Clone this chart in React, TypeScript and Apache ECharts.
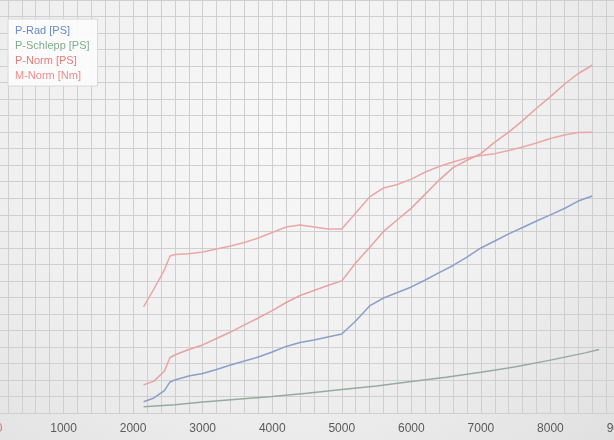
import React, { useEffect, useRef } from "react";
import * as echarts from "echarts";

const rpm = [2150, 2300, 2450, 2530, 2600, 2800, 3000, 3200, 3400, 3600, 3800, 4000, 4200, 4400, 4600, 4800, 5000, 5200, 5400, 5600, 5800, 6000, 6200, 6400, 6600, 6800, 7000, 7200, 7400, 7600, 7800, 8000, 8200, 8400, 8600];
const pRad = [6.8, 9.1, 13.6, 18.8, 20.0, 22.4, 23.9, 26.3, 29.1, 31.5, 33.9, 36.9, 40.3, 42.7, 44.2, 46.0, 47.8, 55.7, 64.8, 69.6, 72.9, 76.3, 80.5, 85.0, 89.3, 94.4, 99.9, 104.1, 108.4, 112.3, 116.2, 119.9, 123.8, 128.3, 131.4];
const pNorm = [17.0, 19.3, 25.4, 33.6, 35.1, 38.4, 41.2, 45.1, 49.0, 53.3, 57.5, 62.0, 66.9, 71.1, 74.2, 77.2, 80.0, 90.8, 100.2, 109.9, 117.0, 124.0, 132.5, 141.0, 148.5, 153.0, 157.0, 164.0, 170.0, 177.0, 184.5, 191.5, 199.0, 205.5, 210.5];
const mNorm = [64.3, 75.1, 86.6, 95.0, 95.9, 96.4, 97.5, 99.3, 101.1, 103.2, 105.9, 109.3, 112.6, 113.8, 112.6, 111.4, 111.4, 121.1, 130.8, 136.2, 138.3, 141.6, 145.9, 149.2, 151.9, 154.4, 155.9, 157.0, 158.9, 161.0, 163.4, 166.2, 168.3, 169.8, 169.9];
const rpmSchlepp = [2150, 2600, 3000, 3500, 4000, 4500, 5000, 5500, 6000, 6500, 7000, 7500, 8000, 8500, 8700];
const pSchlepp = [3.8, 5.0, 6.6, 8.3, 10.0, 12.0, 14.2, 16.3, 19.0, 21.7, 24.6, 28.0, 32.0, 36.4, 38.5];

const seriesNames = ["P-Rad [PS]", "P-Schlepp [PS]", "P-Norm [PS]", "M-Norm [Nm]"];
const lineColors = ["#8c9fc9", "#98aa9f", "#e6a3a3", "#e9a8a8"];
const textColors = ["#6a8ac6", "#7fae8c", "#e27d7d", "#ea8e8e"];

const pairs = (xs: number[], ys: number[]) => xs.map((x, i) => [x, ys[i]]);

export default function App() {
  const ref = useRef<HTMLDivElement>(null);
  useEffect(() => {
    if (!ref.current) return;
    const chart = echarts.init(ref.current, undefined, { renderer: "svg" });
    const data = [pairs(rpm, pRad), pairs(rpmSchlepp, pSchlepp), pairs(rpm, pNorm), pairs(rpm, mNorm)];
    chart.setOption({
      animation: false,
      backgroundColor: "transparent",
      grid: { left: -6, right: -6, top: 0, bottom: 27, containLabel: false, outerBoundsMode: "none" },
      legend: {
        orient: "vertical",
        left: 8,
        top: 19,
        icon: "none",
        itemWidth: 0,
        itemHeight: 0,
        itemGap: 4,
        padding: [5, 8, 6, 2],
        backgroundColor: "rgba(252,252,252,0.92)",
        borderColor: "#d8d8d8",
        borderWidth: 1,
        data: seriesNames.map((n, i) => ({
          name: n,
          textStyle: { color: textColors[i], fontSize: 11, fontFamily: "Liberation Sans" },
        })),
      },
      xAxis: {
        type: "value",
        min: 0,
        max: 9000,
        interval: 1000,
        axisLine: { show: false },
        axisTick: { show: false },
        axisLabel: {
          color: "#5a5a5a",
          fontSize: 12,
          fontFamily: "Liberation Sans",
          margin: 9,
          formatter: (v: number) => (v === 0 ? "{z|0}" : String(v)),
          rich: {
            z: { color: "#d07a70", fontSize: 12, fontFamily: "Liberation Sans", padding: [0, 0, 0, 10] },
          },
        },
        splitLine: { show: true, lineStyle: { color: "#cfcfcf", width: 1 } },
        minorTick: { show: false, splitNumber: 5 },
        minorSplitLine: { show: true, lineStyle: { color: "#cfcfcf", width: 1 } },
      },
      yAxis: {
        type: "value",
        min: 0,
        max: 250,
        interval: 10,
        axisLine: { show: false },
        axisTick: { show: false },
        axisLabel: { show: false },
        splitLine: { show: true, lineStyle: { color: "#cfcfcf", width: 1 } },
      },
      series: seriesNames.map((n, i) => ({
        name: n,
        type: "line",
        data: data[i],
        showSymbol: false,
        smooth: false,
        lineStyle: { color: lineColors[i], width: 1.5 },
        itemStyle: { color: lineColors[i] },
      })),
    });
    return () => chart.dispose();
  }, []);
  return (
    <div
      ref={ref}
      style={{
        position: "fixed",
        left: 0,
        top: 0,
        width: 614,
        height: 440,
        background: "radial-gradient(ellipse at 45% 30%, #f8f8f8 0%, #f0f0f0 55%, #e0e0e0 100%)",
      }}
    />
  );
}
